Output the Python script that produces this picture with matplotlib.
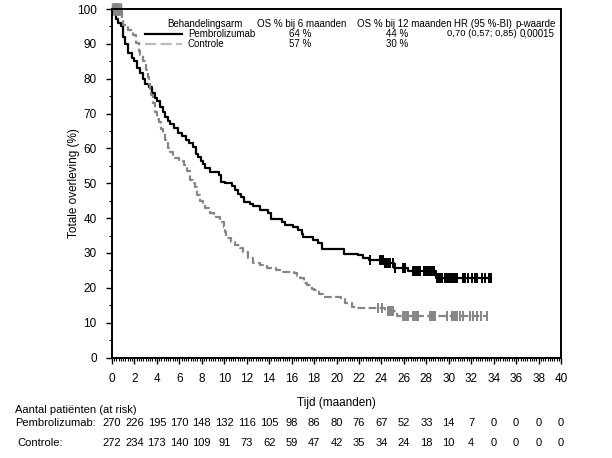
import numpy as np
import matplotlib.pyplot as plt
from matplotlib.ticker import MultipleLocator
from matplotlib.lines import Line2D

plt.rcParams['font.family'] = ['Liberation Sans', 'DejaVu Sans']

# Kaplan-Meier steps (months, % surviving)
pem_t = [0, 0.15, 0.35, 0.55, 0.8, 0.95, 1.2, 1.45, 1.75, 2.0, 2.25, 2.5, 2.75, 2.95,
         3.3, 3.55, 3.8, 4.05, 4.25, 4.5, 4.7, 5.0, 5.2, 5.5, 5.85, 6.2, 6.6, 6.9, 7.2,
         7.5, 7.7, 7.9, 8.15, 8.3, 8.75, 9.5, 9.75, 10.1, 10.7, 11.0, 11.2, 11.5, 11.75,
         12.3, 12.6, 13.2, 13.9, 14.2, 15.1, 15.4, 16.1, 16.6, 16.9, 17.05, 17.9, 18.35,
         18.75, 20.7, 21.9, 22.4, 22.9, 24.2, 25.1, 26.4, 28.85, 33.8]
pem_s = [100, 98.5, 97, 96, 95, 92, 90, 87.5, 86, 85, 83, 81.5, 80, 78.5,
         77.5, 76, 74.5, 73.5, 72, 70.5, 69, 68, 67, 66, 64.5, 63.5, 62.5, 61.5, 60.5,
         58.5, 57.5, 56.5, 55.5, 54.5, 53.3, 52.5, 50.5, 50, 49.3, 48, 47, 46, 44.7,
         44, 43.5, 42.3, 41.4, 39.8, 39, 38, 37.5, 36.5, 35.5, 34.5, 33.7, 32.8,
         31, 29.8, 29.4, 28.5, 28, 27, 25.8, 24.9, 22.9, 22.9]

ctl_t = [0, 0.85, 1.0, 1.4, 1.85, 2.15, 2.4, 2.5, 2.75, 3.0, 3.2, 3.3, 3.4, 3.5, 3.65,
         3.8, 4.0, 4.15, 4.4, 4.55, 4.75, 4.85, 5.0, 5.15, 5.45, 6.0, 6.45, 6.7, 6.95,
         7.2, 7.4, 7.55, 7.85, 8.1, 8.3, 8.7, 9.05, 9.6, 10.0, 10.1, 10.2, 10.6, 11.0,
         11.4, 11.7, 12.15, 12.6, 13.2, 13.8, 14.6, 15.1, 16.2, 16.5, 16.75, 17.1, 17.4,
         17.8, 18.0, 18.4, 18.8, 20.4, 20.8, 21.4, 21.7, 24.3, 25.35, 33.4]
ctl_s = [100, 97.5, 95.4, 94, 92.5, 90.2, 88, 86.8, 85, 82.5, 80.6, 78.5, 77, 75.3, 73,
         70.5, 68.5, 67.5, 65.5, 64.5, 62.5, 61.5, 60, 59, 57.2, 56.5, 55.2, 53.5, 51,
         50, 48.8, 46.6, 45, 44, 42.8, 41.5, 40.4, 39, 37.5, 36, 34.2, 33.2, 32.3,
         31.3, 30.4, 28.5, 27, 26.5, 25.6, 25.2, 24.6, 24.2, 23.5, 22.7, 21.5, 20.8,
         19.8, 19.4, 18.3, 17.4, 17.0, 15.6, 14.6, 14.3, 13.3, 12.0, 12.0]

# censored observations (months)
pem_cens = [22.97, 23.86, 24.0, 24.15, 24.3, 24.45, 24.6, 24.75, 25.05, 25.2, 25.95,
            26.1, 26.85, 27.0, 27.15, 27.3, 27.45, 27.75, 27.9, 28.05, 28.2, 28.35,
            28.5, 28.65, 28.95, 29.1, 29.25, 29.4, 29.7, 29.85, 30.0, 30.15, 30.3,
            30.45, 30.6, 30.75, 31.3, 31.45, 31.75, 32.05, 32.35, 32.5, 32.95, 33.25,
            33.55, 33.8]
ctl_cens_start = [0.05, 0.15, 0.25, 0.35, 0.45, 0.55, 0.65, 0.75]
ctl_cens = [23.73, 24.02, 24.6, 24.77, 24.9, 25.06, 25.96, 26.1, 26.25, 26.4, 26.85,
            27.0, 27.14, 27.3, 28.33, 28.48, 28.63, 28.77, 29.81, 30.26, 30.41, 30.55,
            30.7, 31.0, 31.3, 31.9, 32.2, 32.5, 32.9, 33.4]

risk_times = list(range(0, 41, 2))
pem_risk = [270, 226, 195, 170, 148, 132, 116, 105, 98, 86, 80, 76, 67, 52, 33, 14, 7, 0, 0, 0, 0]
ctl_risk = [272, 234, 173, 140, 109, 91, 73, 62, 59, 47, 42, 35, 34, 24, 18, 10, 4, 0, 0, 0, 0]

BLACK = '#000000'
GREY = '#858585'
GREY_LEG = '#bcbcbc'


def surv_at(t_steps, s_steps, times):
    idx = np.searchsorted(t_steps, times, side='right') - 1
    return np.array(s_steps)[idx]


fig = plt.figure(figsize=(6.12, 4.58), dpi=100)
ax = fig.add_axes([0.183, 0.2194, 0.7337, 0.7609])

ax.plot(pem_t, pem_s, drawstyle='steps-post', color=BLACK, lw=1.6)
ax.plot(ctl_t, ctl_s, drawstyle='steps-post', color=GREY, lw=1.6, dashes=(3.5, 1.5))

ax.plot(pem_cens, surv_at(pem_t, pem_s, pem_cens), ls='none', marker='|',
        color=BLACK, ms=6.5, mew=1.4)
ax.plot(ctl_cens, surv_at(ctl_t, ctl_s, ctl_cens), ls='none', marker='|',
        color=GREY, ms=6.5, mew=1.4)
ax.plot(ctl_cens_start, [100] * len(ctl_cens_start), ls='none', marker='|',
        color=GREY, ms=8, mew=2.5, clip_on=False)

ax.set_xlim(0, 40)
ax.set_ylim(0, 100)
ax.xaxis.set_major_locator(MultipleLocator(2))
ax.xaxis.set_minor_locator(MultipleLocator(0.2))
ax.yaxis.set_major_locator(MultipleLocator(10))
ax.yaxis.set_minor_locator(MultipleLocator(5))
ax.tick_params(which='major', direction='out', length=4, width=1, labelsize=8.5, pad=7)
ax.tick_params(which='minor', direction='out', length=2, width=0.8)
for sp in ax.spines.values():
    sp.set_linewidth(1.4)

ax.set_xlabel('Tijd (maanden)', fontsize=8.5, labelpad=9)
ax.set_ylabel('Totale overleving (%)', fontsize=8.5, labelpad=-2)

# legend block with table columns
fs = 7
hy = 0.958
ax.text(0.122, hy, 'Behandelingsarm', transform=ax.transAxes, fontsize=fs, va='center')
ax.text(0.322, hy, 'OS % bij 6 maanden', transform=ax.transAxes, fontsize=fs, va='center')
ax.text(0.546, hy, 'OS % bij 12 maanden', transform=ax.transAxes, fontsize=fs, va='center')
ax.text(0.761, hy, 'HR (95 %-BI)', transform=ax.transAxes, fontsize=fs, va='center')
ax.text(0.899, hy, 'p-waarde', transform=ax.transAxes, fontsize=fs, va='center')

rows = [('Pembrolizumab', '64 %', '44 %', '0,70 (0,57; 0,85)', '0,00015', BLACK, '-'),
        ('Controle', '57 %', '30 %', '', '', GREY_LEG, '--')]
for i, (name, os6, os12, hr, p, col, ls) in enumerate(rows):
    y = 0.929 - i * 0.028
    line = Line2D([0.074, 0.156], [y, y], transform=ax.transAxes, color=col, lw=1.6,
                  ls=ls, dashes=(5, 2) if ls == '--' else (None, None))
    ax.add_line(line)
    ax.text(0.169, y, name, transform=ax.transAxes, fontsize=fs, va='center')
    ax.text(0.418, y, os6, transform=ax.transAxes, fontsize=fs, va='center', ha='center')
    ax.text(0.635, y, os12, transform=ax.transAxes, fontsize=fs, va='center', ha='center')
    if hr:
        ax.text(0.745, y, hr, transform=ax.transAxes, fontsize=6.8, va='center')
        ax.text(0.908, y, p, transform=ax.transAxes, fontsize=fs, va='center')

# number at risk table
fig.text(15 / 612, 1 - 410 / 458, 'Aantal patiënten (at risk)', fontsize=8, va='center')
fig.text(15 / 612, 1 - 423 / 458, 'Pembrolizumab:', fontsize=8, va='center')
fig.text(17 / 612, 1 - 443 / 458, 'Controle:', fontsize=8, va='center')
trans = ax.get_xaxis_transform()
for t, a, b in zip(risk_times, pem_risk, ctl_risk):
    ax.text(t, (357.5 - 423) / 348.5, str(a), transform=trans, fontsize=8,
            ha='center', va='center', clip_on=False)
    ax.text(t, (357.5 - 443) / 348.5, str(b), transform=trans, fontsize=8,
            ha='center', va='center', clip_on=False)

fig.savefig('out.png', dpi=100)
